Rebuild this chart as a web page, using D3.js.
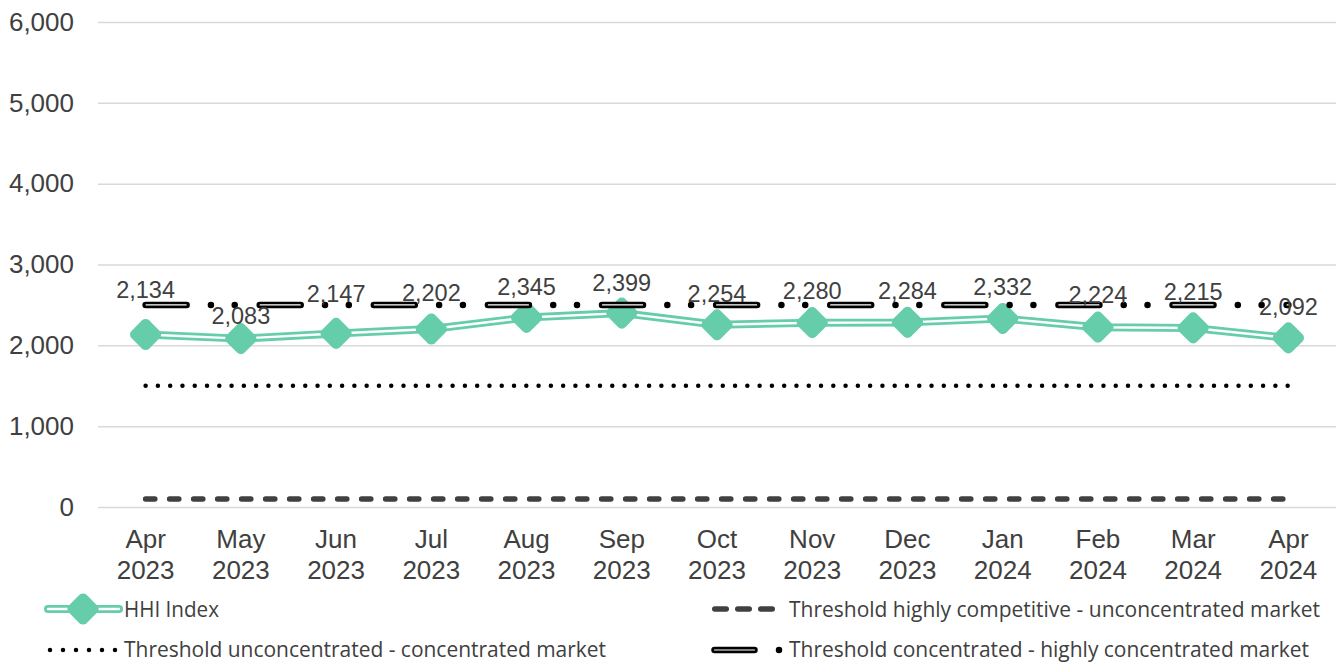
<!DOCTYPE html>
<html>
<head>
<meta charset="utf-8">
<script src="https://cdn.jsdelivr.net/npm/d3@7"></script>
<style>
  body { margin: 0; background: #fff; }
  svg { display: block; }
</style>
</head>
<body>
<div id="chart"></div>
<script>
// ---- data ----
var months = ["Apr 2023", "May 2023", "Jun 2023", "Jul 2023", "Aug 2023", "Sep 2023",
              "Oct 2023", "Nov 2023", "Dec 2023", "Jan 2024", "Feb 2024", "Mar 2024", "Apr 2024"];
var hhiIndex = [2134, 2083, 2147, 2202, 2345, 2399, 2254, 2280, 2284, 2332, 2224, 2215, 2092];
var thresholdCompetitive = 100;    // highly competitive - unconcentrated
var thresholdUnconcentrated = 1500; // unconcentrated - concentrated
var thresholdConcentrated = 2500;   // concentrated - highly concentrated
var yTicks = [0, 1000, 2000, 3000, 4000, 5000, 6000];
var legendNames = ["HHI Index",
                   "Threshold highly competitive - unconcentrated market",
                   "Threshold unconcentrated - concentrated market",
                   "Threshold concentrated - highly concentrated market"];

// ---- layout ----
var W = 1336, H = 662;
var plotLeft = 98, plotRight = 1336, plotTop = 22, plotBottom = 507;
var green = "#66cdaa", ink = "#404040";
// data labels were nudged by hand in the original
var labelNudge = [-44.5, -23, -40, -36, -30.5, -30, -31, -31.7, -31.4, -31.5, -32, -36, -31.5];

var svg = d3.select("#chart").append("svg")
    .attr("width", W).attr("height", H);

var x = d3.scaleBand().domain(months).range([plotLeft, plotRight]);
var y = d3.scaleLinear().domain([0, 6000]).range([plotBottom, plotTop]);
function cx(d) { return x(d) + x.bandwidth() / 2; }

// gridlines
var grid = svg.append("g").attr("transform", "translate(" + plotLeft + ",0)")
    .call(d3.axisLeft(y).tickValues(yTicks).tickSize(-(plotRight - plotLeft)).tickFormat(""));
grid.select(".domain").remove();
grid.selectAll("line").attr("stroke", "#d9d9d9").attr("stroke-width", 1.5);

// y axis labels
var yAxis = svg.append("g").attr("transform", "translate(" + plotLeft + ",0)")
    .call(d3.axisLeft(y).tickValues(yTicks).tickSize(0).tickPadding(24).tickFormat(d3.format(",")));
yAxis.select(".domain").remove();
yAxis.selectAll("text").attr("fill", ink)
    .style("font", "26px 'Liberation Sans', Arial, sans-serif");

// x axis labels (two lines)
var xAxis = svg.append("g").attr("transform", "translate(0," + plotBottom + ")")
    .call(d3.axisBottom(x).tickSize(0).tickFormat(""));
xAxis.select(".domain").remove();
xAxis.selectAll(".tick").each(function(d) {
  var parts = d.split(" ");
  var t = d3.select(this).select("text").attr("fill", ink).attr("y", 0).attr("dy", null)
      .style("font", "26px 'Liberation Sans', Arial, sans-serif");
  t.append("tspan").attr("x", 0).attr("y", 41).text(parts[0]);
  t.append("tspan").attr("x", 0).attr("y", 72).text(parts[1]);
});

// ---- HHI series: double green line with rounded diamonds ----
var line = d3.line().x(function(d, i) { return cx(months[i]); }).y(function(d) { return y(d); });
svg.append("path").datum(hhiIndex).attr("d", line)
    .attr("fill", "none").attr("stroke", green).attr("stroke-width", 8).attr("stroke-linejoin", "round");
svg.append("path").datum(hhiIndex).attr("d", line)
    .attr("fill", "none").attr("stroke", "#fff").attr("stroke-width", 2.4).attr("stroke-linejoin", "round");

function diamond(sel, px, py) {
  sel.append("rect")
      .attr("x", -12.5).attr("y", -12.5).attr("width", 25).attr("height", 25)
      .attr("rx", 5).attr("ry", 5)
      .attr("fill", green)
      .attr("transform", "translate(" + px + "," + py + ") rotate(45)");
}
var markers = svg.append("g");
hhiIndex.forEach(function(v, i) { diamond(markers, cx(months[i]), y(v)); });

// ---- threshold lines ----
var x0 = cx(months[0]), x1 = cx(months[months.length - 1]);

function hline(v) {
  return svg.append("line").attr("x1", x0).attr("x2", x1).attr("y1", y(v)).attr("y2", y(v))
      .attr("fill", "none").attr("stroke-linecap", "round");
}
hline(thresholdCompetitive).attr("stroke", ink).attr("stroke-width", 5.5)
    .attr("stroke-dasharray", "9.2 14.8");
hline(thresholdUnconcentrated).attr("stroke", "#000").attr("stroke-width", 4.5)
    .attr("stroke-dasharray", "0 12.28");
hline(thresholdConcentrated).attr("stroke", "#000").attr("stroke-width", 6.5)
    .attr("stroke-dasharray", "41 24.3 0 23.8 0 25");
hline(thresholdConcentrated).attr("stroke", "#fff").attr("stroke-width", 1.2)
    .attr("stroke-dasharray", "40 74.1").attr("stroke-dashoffset", -0.5);

// ---- data labels ----
svg.append("g").selectAll("text").data(hhiIndex).enter().append("text")
    .attr("x", function(d, i) { return cx(months[i]); })
    .attr("y", function(d, i) { return y(d) + labelNudge[i]; })
    .attr("dy", "0.35em")
    .attr("text-anchor", "middle")
    .attr("fill", ink)
    .style("font", "23.5px 'Liberation Sans', Arial, sans-serif")
    .text(function(d) { return d3.format(",")(d); });

// ---- legend ----
var lg = svg.append("g");
var legendFont = "21px 'Open Sans', 'Noto Sans', sans-serif";
function legendText(tx, ty, str, len) {
  lg.append("text").attr("x", tx).attr("y", ty).attr("fill", ink)
      .attr("textLength", len).attr("lengthAdjust", "spacingAndGlyphs")
      .style("font", legendFont).text(str);
}
var row1 = 609, row2 = 650;

// HHI
lg.append("line").attr("x1", 48).attr("x2", 119).attr("y1", row1).attr("y2", row1)
    .attr("stroke", green).attr("stroke-width", 8).attr("stroke-linecap", "round");
lg.append("line").attr("x1", 48).attr("x2", 119).attr("y1", row1).attr("y2", row1)
    .attr("stroke", "#fff").attr("stroke-width", 2.4).attr("stroke-linecap", "round");
diamond(lg, 83, row1);
legendText(124, row1 + 8, legendNames[0], 95);

// dashed
lg.append("line").attr("x1", 714.75).attr("x2", 772.25).attr("y1", row1).attr("y2", row1)
    .attr("stroke", ink).attr("stroke-width", 5.5).attr("stroke-linecap", "round")
    .attr("stroke-dasharray", "11.5 11.5");
legendText(789, row1 + 8, legendNames[1], 531);

// dotted
lg.append("line").attr("x1", 50).attr("x2", 116).attr("y1", row2).attr("y2", row2)
    .attr("stroke", "#000").attr("stroke-width", 4.5).attr("stroke-linecap", "round")
    .attr("stroke-dasharray", "0 13");
legendText(124, row2 + 7, legendNames[2], 482);

// dash-dot
lg.append("line").attr("x1", 714.5).attr("x2", 782).attr("y1", row2).attr("y2", row2)
    .attr("stroke", "#000").attr("stroke-width", 6.5).attr("stroke-linecap", "round")
    .attr("stroke-dasharray", "40 24.5 0 100");
lg.append("line").attr("x1", 714.5).attr("x2", 754.5).attr("y1", row2).attr("y2", row2)
    .attr("stroke", "#fff").attr("stroke-width", 1.2).attr("stroke-linecap", "round");
legendText(789, row2 + 7, legendNames[3], 520);
</script>
</body>
</html>
